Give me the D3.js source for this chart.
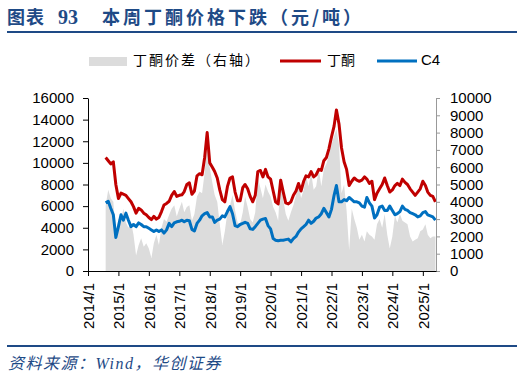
<!DOCTYPE html>
<html><head><meta charset="utf-8">
<script src="https://cdn.jsdelivr.net/npm/d3@7"></script>
<style>body{margin:0;background:#fff}svg{display:block}</style>
</head><body>
<svg id="c" width="523" height="378"></svg>
<script>
// ---- data (monthly, starting 2014-08) ----
const startMonth = "2014-08";
const mek = [10500,10200,9900,10100,8000,6700,7200,7100,7000,6700,6400,5950,5350,5800,5650,5350,5200,4950,4750,5050,4800,4950,5500,6100,6250,6450,7000,7350,6900,7000,7050,7350,8000,8150,7100,7400,8800,9000,8900,10500,12800,10000,9600,9200,8600,7500,6600,6400,7800,8600,8700,7300,6500,6500,7700,8000,7600,6900,6400,7000,9200,9300,8700,9400,8700,8500,7400,6400,6200,8400,7300,6300,6200,6400,7000,7400,8100,7400,8300,8800,8700,9200,8700,8900,9400,9300,10200,10500,11300,12400,13400,14900,13600,11400,10100,9400,7900,8300,8600,8400,8300,8400,8700,8500,8100,8300,6600,7200,7600,8000,8600,7900,7300,7500,7900,8100,7900,8500,8200,8000,7600,7300,7000,7300,7600,8300,7900,7300,7000,6900,6400];
const c4 = [6300,6450,5800,5200,3100,4100,5200,4700,5350,4700,4100,4300,4100,4450,4300,4100,4100,3950,3800,3650,3800,3650,3800,3500,3800,4400,4100,4450,4550,4600,4700,4550,4700,4650,3850,3700,4400,4700,5100,5300,5400,5000,5000,4500,4700,4800,5100,5000,5500,5950,5300,4200,4100,4300,4400,4500,4400,3900,3850,4100,4400,4700,4800,4850,4200,3900,3000,2850,2800,2850,2850,2900,2950,2700,3000,3200,3600,3900,4100,4300,4700,4400,4600,4900,5000,5300,5800,5400,5000,5700,7000,7900,6400,6400,6600,6500,6800,6600,6400,6400,6300,6000,5900,6800,6300,6000,4900,5200,5900,6000,5600,5600,6000,5600,5200,5300,5500,6000,5700,5600,5400,5300,5200,5000,5100,5400,5500,5200,5100,5000,4700];
const spread = [3800,4700,4200,4000,2100,3000,2900,3600,2800,2500,2850,2100,900,1500,1900,1400,1600,1300,750,1600,2100,1500,2500,3000,2850,3250,3600,3800,3150,3600,4000,3400,3700,3800,2900,3300,4300,4600,4500,5700,7400,6000,5100,4400,4000,2700,1500,2300,3400,3800,4400,3500,2800,2700,3400,4300,3700,3000,2800,3400,5400,4800,4200,5000,4600,4300,3700,3400,2900,5500,4100,3300,2900,3400,3800,4400,5100,4200,4700,5500,4900,5700,4700,4900,5900,4900,5900,6200,6700,7300,7800,8200,7300,4500,5000,3500,1200,3600,3000,2500,1800,2100,1700,2300,2100,2000,1800,2700,3000,2500,3300,2100,1300,2000,3200,2800,3300,2900,2800,2700,2000,1700,1800,1900,2300,2400,2700,2100,1900,2000,2000];
const leftTicks = [0,2000,4000,6000,8000,10000,12000,14000,16000];
const rightTicks = [0,1000,2000,3000,4000,5000,6000,7000,8000,9000,10000];
const xTickLabels = ["2014/1","2015/1","2016/1","2017/1","2018/1","2019/1","2020/1","2021/1","2022/1","2023/1","2024/1","2025/1"];
const legendLabels = ["丁酮价差（右轴）","丁酮","C4"];
const titleParts = ["图表","93","本周丁酮价格下跌（元/吨）"];
const sourceText = "资料来源：Wind，华创证券";

// ---- chart ----
const svg = d3.select("#c");
const navy = "#1e4a86";
const parseM = d3.timeParse("%Y-%m");
const parseT = d3.timeParse("%Y/%m");
const dates = mek.map((_, i) => d3.timeMonth.offset(parseM(startMonth), i));
const x = d3.scaleTime().domain([new Date(2014,0,1), new Date(2025,5,8)]).range([88,436]);
const yL = d3.scaleLinear().domain([0,16000]).range([271,98]);
const yR = d3.scaleLinear().domain([0,10000]).range([271,98]);

// title
const t = svg.append("text").attr("y",24).attr("fill",navy)
  .style("font-family","'Noto Sans CJK SC',sans-serif").style("font-weight","700").style("font-size","18px");
t.append("tspan").attr("x",7).style("letter-spacing","1px").text(titleParts[0]);
t.append("tspan").attr("x",58).style("font-family","'Liberation Serif',serif").style("font-size","20px").text(titleParts[1]);
t.append("tspan").attr("x",102).style("letter-spacing","3px").text(titleParts[2]);
svg.append("line").attr("x1",7).attr("x2",517).attr("y1",32).attr("y2",32).attr("stroke",navy).attr("stroke-width",2);

// area (spread, right axis)
svg.append("path").datum(spread)
  .attr("fill","#dcdcdc")
  .attr("d", d3.area().x((d,i)=>x(dates[i])).y0(yR(0)).y1(d=>yR(d)));

// lines
const lineL = d3.line().x((d,i)=>x(dates[i])).y(d=>yL(d));
svg.append("path").datum(mek).attr("fill","none").attr("stroke","#c00000").attr("stroke-width",3).attr("stroke-linejoin","round").attr("d",lineL);
svg.append("path").datum(c4).attr("fill","none").attr("stroke","#0070c0").attr("stroke-width",3).attr("stroke-linejoin","round").attr("d",lineL);

// axes
const numFont = "'Liberation Sans',Arial,sans-serif";
const gL = svg.append("g").attr("transform","translate(88,0)")
  .call(d3.axisLeft(yL).tickValues(leftTicks).tickSize(5).tickSizeOuter(0).tickPadding(9).tickFormat(d3.format("d")));
gL.selectAll("text").style("font-family",numFont).style("font-size","15px").attr("fill","#000");
gL.selectAll("line,path").attr("stroke","#000");

const gR = svg.append("g").attr("transform","translate(436,0)")
  .call(d3.axisRight(yR).tickValues(rightTicks).tickSize(4).tickSizeOuter(0).tickPadding(10).tickFormat(d3.format("d")));
gR.selectAll("text").style("font-family",numFont).style("font-size","15px").attr("fill","#000");
gR.selectAll("line,path").attr("stroke","#999");

const gB = svg.append("g").attr("transform","translate(0,271)")
  .call(d3.axisBottom(x).tickValues(xTickLabels.map(parseT)).tickSize(5).tickSizeOuter(0).tickFormat((d,i)=>xTickLabels[i]));
gB.selectAll("line,path").attr("stroke","#000");
gB.selectAll("text").style("font-family",numFont).style("font-size","15px").attr("fill","#000")
  .attr("y",0).attr("x",-12).attr("dy","0.35em").attr("transform","rotate(-90)").style("text-anchor","end");

// legend
const cjk = "'Noto Sans CJK SC',sans-serif";
svg.append("rect").attr("x",89).attr("y",57).attr("width",38).attr("height",9).attr("fill","#dcdcdc");
svg.append("text").attr("x",133).attr("y",61).attr("dominant-baseline","middle").style("font-family",cjk).style("font-size","14px").style("letter-spacing","2px").text(legendLabels[0]);
svg.append("line").attr("x1",280).attr("x2",321).attr("y1",61).attr("y2",61).attr("stroke","#c00000").attr("stroke-width",3);
svg.append("text").attr("x",327).attr("y",61).attr("dominant-baseline","middle").style("font-family",cjk).style("font-size","14px").text(legendLabels[1]);
svg.append("line").attr("x1",377).attr("x2",417).attr("y1",61).attr("y2",61).attr("stroke","#0070c0").attr("stroke-width",3);
svg.append("text").attr("x",421).attr("y",61).attr("dominant-baseline","middle").style("font-family",numFont).style("font-size","15px").text(legendLabels[2]);

// footer
svg.append("line").attr("x1",7).attr("x2",517).attr("y1",346).attr("y2",346).attr("stroke",navy).attr("stroke-width",2);
svg.append("text").attr("x",8).attr("y",369).attr("fill",navy)
  .style("font-family","'Liberation Serif','Noto Sans CJK SC',serif").style("font-style","italic").style("font-size","16px").style("letter-spacing","1.5px")
  .text(sourceText);
</script>
</body></html>
